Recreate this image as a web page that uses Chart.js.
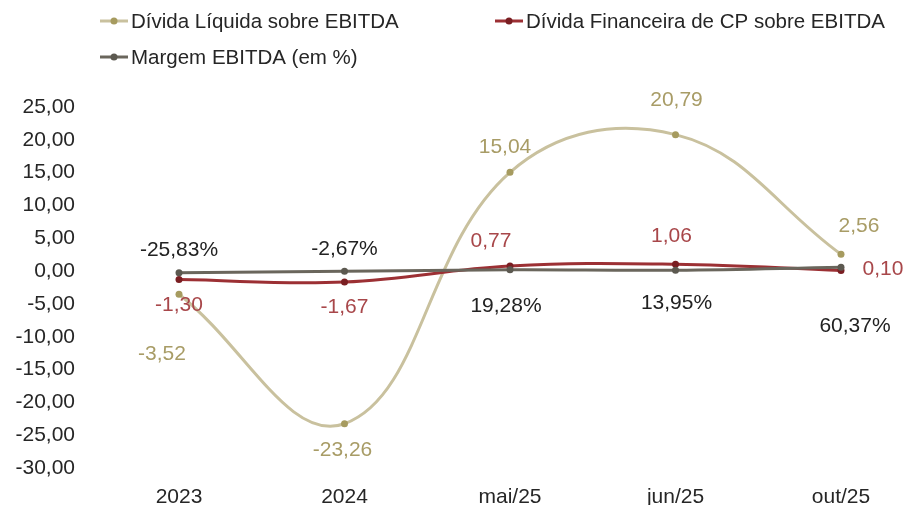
<!DOCTYPE html>
<html>
<head>
<meta charset="utf-8">
<script src="https://cdn.jsdelivr.net/npm/chart.js@4.4.0/dist/chart.umd.min.js"></script>
<style>
  html, body { margin: 0; padding: 0; background: #fff; }
  #wrap { width: 904px; height: 505px; }
</style>
</head>
<body>
<div id="wrap"><canvas id="myChart" width="904" height="505"></canvas></div>
<script>
const FONT = '"Liberation Sans", Arial, sans-serif'

// dados
const categories = ['2023', '2024', 'mai/25', 'jun/25', 'out/25']
const dividaLiquida = [-3.52, -23.26, 15.04, 20.79, 2.56]
const dividaCP = [-1.30, -1.67, 0.77, 1.06, 0.10]
const margemPct = [-25.83, -2.67, 19.28, 13.95, 60.37]
const yTicks = [25, 20, 15, 10, 5, 0, -5, -10, -15, -20, -25, -30]

// onde fica cada rotulo em relacao ao ponto (dx, dy)
const labelOffsets = [
  [[-17, 60], [-2, 26], [-5, -25], [1, -34], [18, -28]],
  [[0, 26], [0, 25], [-19, -25], [-4, -28], [42, -1]],
  [[0, -23], [0, -22], [-4, 36], [1, 33], [14, 59]]
]

const fmt = (v, d) => v.toFixed(d).replace('.', ',')

const canvas = document.getElementById('myChart')

const labelPlugin = {
  id: 'pointLabels',
  afterDatasetsDraw(chart) {
    const ctx = chart.ctx
    ctx.save()
    ctx.font = '21px ' + FONT
    ctx.textAlign = 'center'
    ctx.textBaseline = 'middle'
    chart.data.datasets.forEach((ds, i) => {
      const meta = chart.getDatasetMeta(i)
      meta.data.forEach((pt, j) => {
        const off = labelOffsets[i][j]
        ctx.fillStyle = ds.labelColor
        ctx.fillText(ds.labelText(j), pt.x + off[0], pt.y + off[1])
      })
    })
    ctx.restore()
  }
}

// legenda desenhada a mao (linha com bolinha)
const legendPlugin = {
  id: 'lineLegend',
  afterDraw(chart) {
    const ctx = chart.ctx
    const spots = [[100, 21], [495, 21], [100, 57]]
    ctx.save()
    ctx.font = '20.5px ' + FONT
    ctx.textBaseline = 'middle'
    chart.data.datasets.forEach((ds, i) => {
      const [x, y] = spots[i]
      ctx.strokeStyle = ds.borderColor
      ctx.lineWidth = 3
      ctx.beginPath()
      ctx.moveTo(x, y)
      ctx.lineTo(x + 28, y)
      ctx.stroke()
      ctx.fillStyle = ds.pointBackgroundColor
      ctx.beginPath()
      ctx.arc(x + 14, y, 3.5, 0, Math.PI * 2)
      ctx.fill()
      ctx.fillStyle = '#262626'
      ctx.fillText(ds.label, x + 31, y + 1)
    })
    ctx.restore()
  }
}

const config = {
  type: 'line',
  data: {
    labels: categories,
    datasets: [{
      label: 'Dívida Líquida sobre EBITDA',
      data: dividaLiquida,
      borderColor: '#C9C19E',
      pointBackgroundColor: '#A69B5F',
      pointBorderColor: '#A69B5F',
      labelColor: '#A89C66',
      labelText: j => fmt(dividaLiquida[j], 2),
      order: 2
    }, {
      label: 'Dívida Financeira de CP sobre EBITDA',
      data: dividaCP,
      borderColor: '#9C3034',
      pointBackgroundColor: '#7A1E22',
      pointBorderColor: '#7A1E22',
      labelColor: '#A8474A',
      labelText: j => fmt(dividaCP[j], 2),
      order: 1
    }, {
      label: 'Margem EBITDA (em %)',
      data: margemPct.map(v => v / 100),
      borderColor: '#6A665C',
      pointBackgroundColor: '#5C5950',
      pointBorderColor: '#5C5950',
      labelColor: '#222222',
      labelText: j => fmt(margemPct[j], 2) + '%',
      order: 0
    }]
  },
  options: {
    responsive: false,
    animation: false,
    layout: { padding: { top: 107, right: 63, left: 0, bottom: 0 } },
    elements: {
      line: { borderWidth: 3, tension: 0.4 },
      point: { radius: 3.5, borderWidth: 0, hoverRadius: 3.5 }
    },
    datasets: { line: { clip: false } },
    plugins: {
      legend: { display: false },
      tooltip: { enabled: false }
    },
    scales: {
      x: {
        offset: false,
        grid: { display: false, drawTicks: false },
        border: { display: false },
        ticks: { color: '#262626', font: { family: FONT, size: 21 }, padding: 17, maxRotation: 0 },
        afterFit(scale) { scale.height = 37 }
      },
      y: {
        min: -30,
        max: 25,
        grid: { display: false, drawTicks: false },
        border: { display: false },
        afterBuildTicks(scale) { scale.ticks = yTicks.map(v => ({ value: v })) },
        ticks: {
          color: '#262626',
          font: { family: FONT, size: 21 },
          padding: 104,
          callback: v => fmt(v, 2)
        },
        afterFit(scale) {
          scale.width = 179
          scale.paddingTop = 0
          scale.paddingBottom = 0
        }
      }
    }
  },
  plugins: [labelPlugin, legendPlugin]
}

new Chart(canvas, config)
</script>
</body>
</html>
